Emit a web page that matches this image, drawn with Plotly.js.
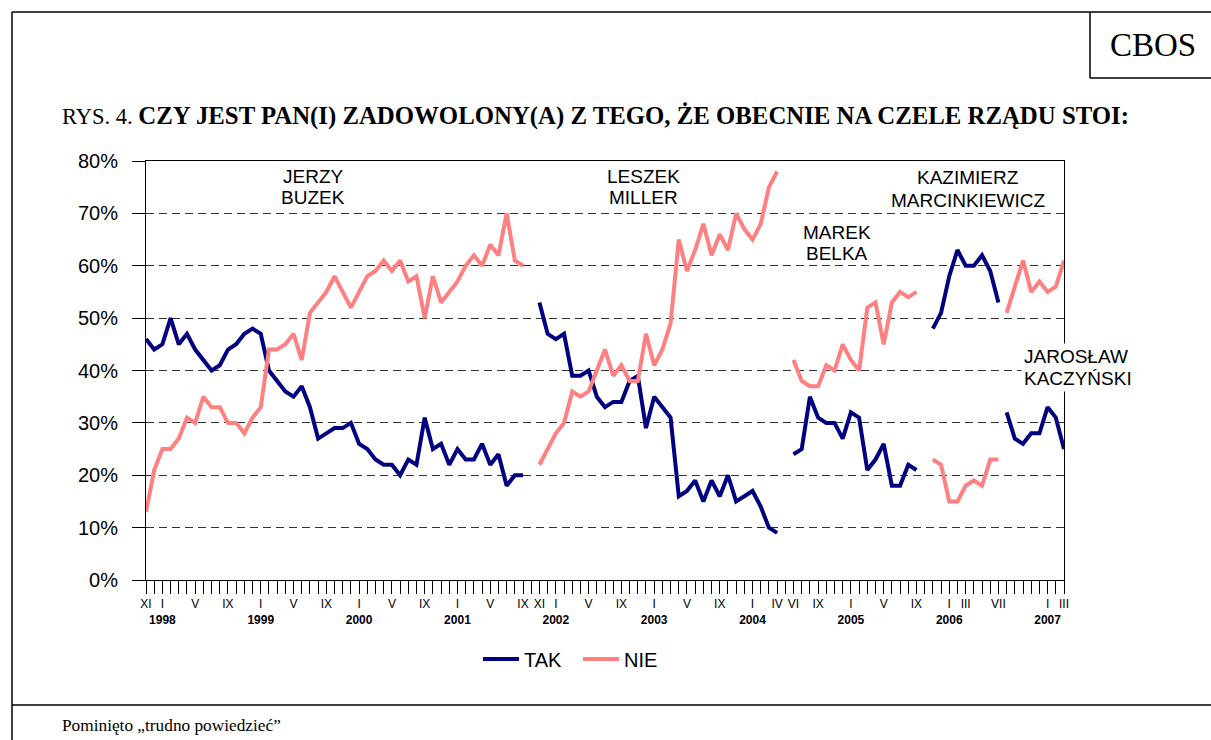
<!DOCTYPE html>
<html>
<head>
<meta charset="utf-8">
<script src="https://cdn.plot.ly/plotly-3.0.1.min.js"></script>
<style>
html,body{margin:0;padding:0;background:#fff;}
#chart{width:1211px;height:740px;}
</style>
</head>
<body>
<div id="chart"></div>
<script>
// ---- Categories: monthly survey points XI 1997 .. III 2007 ----
const CATEGORIES = [];
for (let y = 1997; y <= 2007; y++) {
  for (let m = 1; m <= 12; m++) {
    if (y === 1997 && m < 11) continue;
    if (y === 2007 && m > 3) continue;
    CATEGORIES.push(y + '-' + String(m).padStart(2, '0'));
  }
}

// ---- Tick labels (month roman numerals, years under January) ----
const TICK_CATS = ['1997-11','1998-01','1998-05','1998-09','1999-01','1999-05','1999-09',
  '2000-01','2000-05','2000-09','2001-01','2001-05','2001-09','2001-11','2002-01','2002-05',
  '2002-09','2003-01','2003-05','2003-09','2004-01','2004-04','2004-06','2004-09','2005-01',
  '2005-05','2005-09','2006-01','2006-03','2006-07','2007-01','2007-03'];
const TICK_MONTHS = ['XI','I','V','IX','I','V','IX','I','V','IX','I','V','IX','XI','I','V',
  'IX','I','V','IX','I','IV','VI','IX','I','V','IX','I','III','VII','I','III'];
const TICK_YEARS = ['','1998','','','1999','','','2000','','','2001','','','','2002','',
  '','2003','','','2004','','','','2005','','','2006','','','2007',''];

// ---- Governments (first month of each series) ----
const GOV_START = ['1997-11', '2001-11', '2004-06', '2005-11', '2006-08'];

// ---- TAK (satisfied) ----
const TAK_BUZEK = [46,44,45,50,45,47,44,42,40,41,44,45,47,48,47,40,38,36,35,37,33,27,28,29,29,30,
  26,25,23,22,22,20,23,22,31,25,26,22,25,23,23,26,22,24,18,20,20];
const TAK_MILLER = [53,47,46,47,39,39,40,35,33,34,34,38,39,29,35,33,31,16,17,19,15,19,16,20,15,16,
  17,14,10,9];
const TAK_BELKA = [24,25,35,31,30,30,27,32,31,21,23,26,18,18,22,21];
const TAK_MARCINKIEWICZ = [48,51,58,63,60,60,62,59,53];
const TAK_KACZYNSKI = [32,27,26,28,28,33,31,25];

// ---- NIE (not satisfied) ----
const NIE_BUZEK = [13,21,25,25,27,31,30,35,33,33,30,30,28,31,33,44,44,45,47,42,51,53,55,58,55,52,
  55,58,59,61,59,61,57,58,50,58,53,55,57,60,62,60,64,62,70,61,60];
const NIE_MILLER = [22,25,28,30,36,35,36,40,44,39,41,38,38,47,41,44,49,65,59,63,68,62,66,63,70,67,
  65,68,75,78];
const NIE_BELKA = [42,38,37,37,41,40,45,42,40,52,53,45,53,55,54,55];
const NIE_MARCINKIEWICZ = [23,22,15,15,18,19,18,23,23];
const NIE_KACZYNSKI = [51,56,61,55,57,55,56,61];

const TAK_SEGMENTS = [TAK_BUZEK, TAK_MILLER, TAK_BELKA, TAK_MARCINKIEWICZ, TAK_KACZYNSKI];
const NIE_SEGMENTS = [NIE_BUZEK, NIE_MILLER, NIE_BELKA, NIE_MARCINKIEWICZ, NIE_KACZYNSKI];

// ---- layout geometry ----
const W = 1211, H = 740;
const M = {l: 146, r: 147, t: 161, b: 160};
const PW = W - M.l - M.r, PH = H - M.t - M.b;
const PX = px => (px - M.l) / PW;
const PY = py => (H - M.b - py) / PH;

const NAVY = '#000080', PINK = '#FF8080';

function segX(start, n) {
  const i0 = CATEGORIES.indexOf(start);
  return CATEGORIES.slice(i0, i0 + n);
}

const traces = [];
TAK_SEGMENTS.forEach((vals, k) => {
  traces.push({type: 'scatter', mode: 'lines', name: 'TAK', legendgroup: 'TAK',
    showlegend: k === 0, x: segX(GOV_START[k], vals.length), y: vals,
    line: {color: NAVY, width: 4}, hoverinfo: 'x+y'});
});
NIE_SEGMENTS.forEach((vals, k) => {
  traces.push({type: 'scatter', mode: 'lines', name: 'NIE', legendgroup: 'NIE',
    showlegend: k === 0, x: segX(GOV_START[k], vals.length), y: vals,
    line: {color: PINK, width: 4}, hoverinfo: 'x+y'});
});
// keep legend order TAK, NIE
traces.sort((a, b) => (b.showlegend === true) - (a.showlegend === true));

const tickText = CATEGORIES.map(c => {
  const j = TICK_CATS.indexOf(c);
  if (j < 0) return '';
  return TICK_YEARS[j] ? TICK_MONTHS[j] + '<br><b>' + TICK_YEARS[j] + '</b>' : TICK_MONTHS[j];
});

const SANS = 'Liberation Sans, Arial, sans-serif';
const SERIF = 'Liberation Serif, Times New Roman, serif';

const nameLines = [
  ['JERZY', 313, 176], ['BUZEK', 313, 198],
  ['LESZEK', 643, 176], ['MILLER', 643, 198],
  ['MAREK', 837, 232], ['BELKA', 837, 254],
  ['KAZIMIERZ', 968, 177], ['MARCINKIEWICZ', 968, 200],
];
const annotations = nameLines.map(([t, x, y]) => ({
  text: t, xref: 'paper', yref: 'paper', x: PX(x), y: PY(y), xanchor: 'center', yanchor: 'middle',
  showarrow: false, font: {family: SANS, size: 19, color: '#000'}
}));
[['JAROSŁAW', 356], ['KACZYŃSKI', 378]].forEach(([t, y]) => annotations.push({
  text: t, xref: 'paper', yref: 'paper', x: PX(1021), y: PY(y), xanchor: 'left', yanchor: 'middle',
  showarrow: false, bgcolor: '#fff', borderpad: 2, font: {family: SANS, size: 19, color: '#000'}
}));
annotations.push({
  text: 'CBOS', xref: 'paper', yref: 'paper', x: PX(1153), y: PY(45), xanchor: 'center', yanchor: 'middle',
  showarrow: false, font: {family: SERIF, size: 33, color: '#000'}
});
annotations.push({
  text: 'Pominięto „trudno powiedzieć”', xref: 'paper', yref: 'paper', x: PX(60), y: PY(725),
  xanchor: 'left', yanchor: 'middle', showarrow: false, font: {family: SERIF, size: 17.3, color: '#000'}
});

const frame = {type: 'line', xref: 'paper', yref: 'paper', line: {color: '#000', width: 1.5}};
const shapes = [
  Object.assign({}, frame, {x0: PX(12), x1: PX(12), y0: PY(12), y1: PY(740)}),
  Object.assign({}, frame, {x0: PX(12), x1: PX(1211), y0: PY(12), y1: PY(12)}),
  Object.assign({}, frame, {x0: PX(1090), x1: PX(1090), y0: PY(12), y1: PY(78)}),
  Object.assign({}, frame, {x0: PX(1090), x1: PX(1211), y0: PY(78), y1: PY(78)}),
  Object.assign({}, frame, {x0: PX(12), x1: PX(1211), y0: PY(705), y1: PY(705)}),
];

const layout = {
  width: W, height: H, margin: M,
  paper_bgcolor: '#fff', plot_bgcolor: '#fff',
  font: {family: SANS, color: '#000'},
  title: {text: 'RYS. 4. <span style="font-size:24.8px"><b>CZY JEST PAN(I) ZADOWOLONY(A) Z TEGO, ŻE OBECNIE NA CZELE RZĄDU STOI:</b></span>',
    xref: 'container', yref: 'container', x: 62 / W, y: 1 - 116 / H, xanchor: 'left', yanchor: 'middle',
    font: {family: SERIF, size: 22.5, color: '#000'}},
  xaxis: {type: 'category', categoryorder: 'array', categoryarray: CATEGORIES,
    range: [0, CATEGORIES.length - 1], tickmode: 'array', tickvals: CATEGORIES, ticktext: tickText,
    ticks: 'outside', ticklen: 13, tickcolor: '#000', tickwidth: 1, tickangle: 0,
    showline: true, linecolor: '#000', linewidth: 1, mirror: true, showgrid: false, zeroline: false,
    tickfont: {family: SANS, size: 12, color: '#000'}, automargin: false, fixedrange: true},
  yaxis: {range: [0, 80], dtick: 10, tick0: 0, ticksuffix: '%', ticks: 'outside', ticklen: 13,
    tickcolor: '#000', tickwidth: 1, showline: true, linecolor: '#000', linewidth: 1, mirror: true,
    showgrid: true, gridcolor: '#333', gridwidth: 1, griddash: '8px,5px', zeroline: false,
    ticklabelstandoff: 10,
    tickfont: {family: SANS, size: 20, color: '#000'}, automargin: false, fixedrange: true},
  showlegend: true,
  legend: {orientation: 'h', x: PX(478), xanchor: 'left', y: PY(659), yanchor: 'middle',
    font: {family: SANS, size: 20, color: '#000'}, entrywidth: 49, entrywidthmode: 'pixels',
    itemwidth: 36, traceorder: 'normal', bgcolor: 'rgba(0,0,0,0)'},
  annotations: annotations,
  shapes: shapes,
};

Plotly.newPlot('chart', traces, layout, {displayModeBar: false, staticPlot: true});
</script>
</body>
</html>
